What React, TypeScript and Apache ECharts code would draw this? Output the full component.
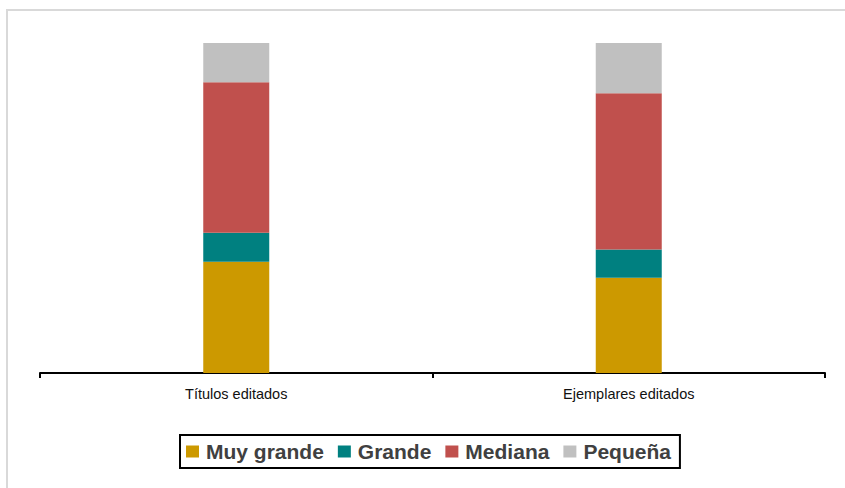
import React, { useEffect, useRef } from "react";
import * as echarts from "echarts";

const categories = ["Títulos editados", "Ejemplares editados"];
const seriesNames = ["Muy grande", "Grande", "Mediana", "Pequeña"];
const muyGrande = [33.7, 28.9];
const grande = [8.8, 8.5];
const mediana = [45.6, 47.4];
const pequena = [11.9, 15.2];
const colors = ["#CC9900", "#008080", "#C0504D", "#C0C0C0"];

export default function App() {
  const ref = useRef<HTMLDivElement>(null);
  useEffect(() => {
    if (!ref.current) return;
    const chart = echarts.init(ref.current, undefined, { renderer: "svg" });
    const values = [muyGrande, grande, mediana, pequena];
    chart.setOption({
      animation: false,
      textStyle: { fontFamily: "Liberation Sans, Arial, sans-serif" },
      graphic: [
        {
          type: "rect",
          shape: { x: 7, y: 10, width: 900, height: 600 },
          style: { fill: "none", stroke: "#d9d9d9", lineWidth: 2 },
          silent: true,
        },
      ],
      grid: { left: 40, right: 20, top: 43, bottom: 115 },
      xAxis: {
        type: "category",
        data: categories,
        axisLine: { lineStyle: { color: "#000", width: 2 } },
        axisTick: { show: true, length: 5, lineStyle: { color: "#000", width: 2 } },
        axisLabel: { color: "#111", fontSize: 14.5, margin: 13 },
      },
      yAxis: {
        type: "value",
        min: 0,
        max: 100,
        show: false,
        splitLine: { show: false },
      },
      legend: {
        data: seriesNames,
        bottom: 20,
        left: 180,
        icon: "rect",
        itemWidth: 13,
        itemHeight: 12,
        itemGap: 14,
        borderColor: "#000",
        borderWidth: 2,
        borderRadius: 0,
        padding: [6, 9, 6, 6],
        textStyle: { fontSize: 21, fontWeight: "bold", color: "#404040", padding: [0, 0, 0, 2] },
      },
      series: seriesNames.map((name, i) => ({
        name,
        type: "bar",
        stack: "total",
        barWidth: 66,
        itemStyle: { color: colors[i] },
        data: values[i],
      })),
    });
    return () => chart.dispose();
  }, []);
  return (
    <div
      ref={ref}
      style={{ position: "absolute", left: 0, top: 0, width: 845, height: 488 }}
    />
  );
}
